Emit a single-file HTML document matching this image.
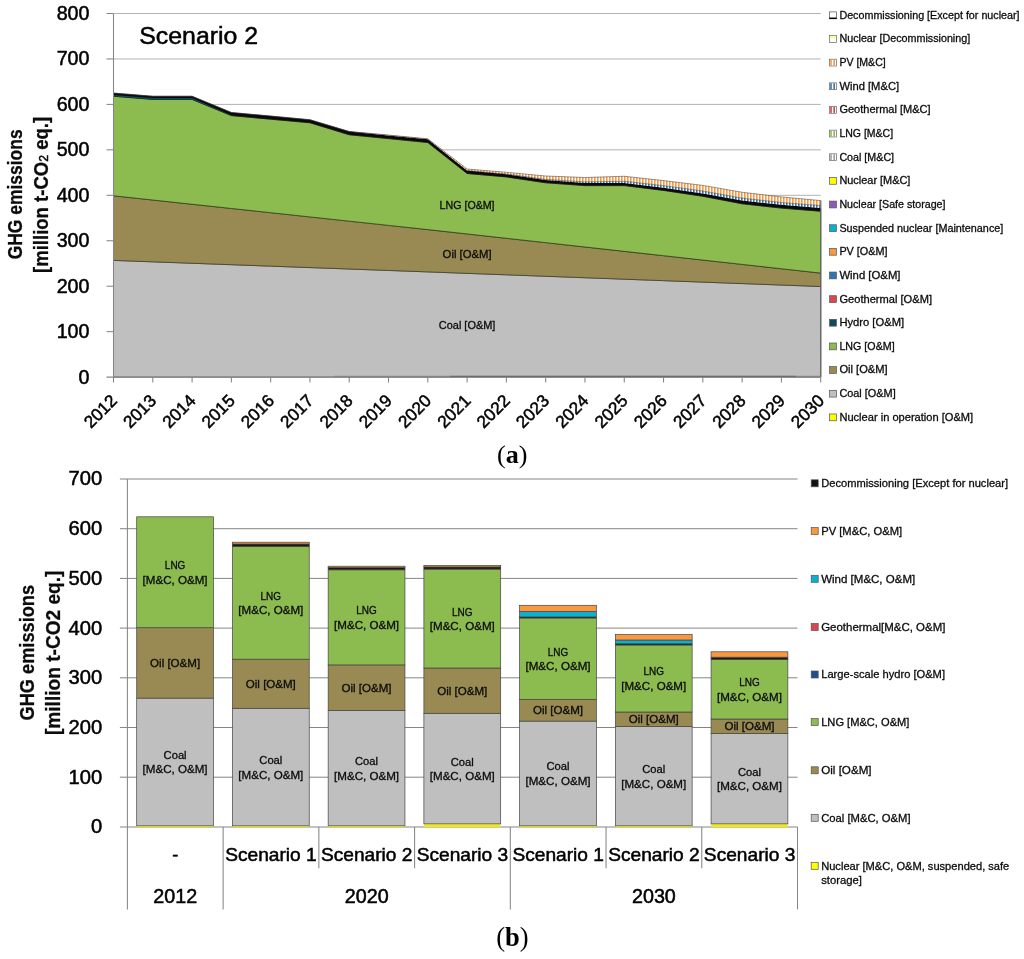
<!DOCTYPE html><html><head><meta charset="utf-8"><title>GHG emissions</title>
<style>html,body{margin:0;padding:0;background:#fff}svg{display:block;will-change:transform}text{font-family:"Liberation Sans",sans-serif;fill:#0c0c0c;stroke:#0c0c0c;stroke-width:0.28px}.big{stroke-width:0.5px;fill:#000;stroke:#000}.ser{font-family:"Liberation Serif",serif;fill:#000;stroke:none}</style></head><body>
<svg width="1024" height="959" viewBox="0 0 1024 959">
<rect width="1024" height="959" fill="#fff"/>
<defs>
<pattern id="hO" width="3" height="8" patternUnits="userSpaceOnUse"><rect width="3" height="8" fill="#fff"/><rect x="0" width="1.6" height="8" fill="#F9983F"/></pattern>
<pattern id="hB" width="3" height="8" patternUnits="userSpaceOnUse"><rect width="3" height="8" fill="#fff"/><rect x="0" width="1.6" height="8" fill="#2E75B6"/></pattern>
</defs>
<line x1="113.5" x2="820.7" y1="331.65" y2="331.65" stroke="#b2b2b2" stroke-width="1"/>
<line x1="113.5" x2="820.7" y1="286.20" y2="286.20" stroke="#b2b2b2" stroke-width="1"/>
<line x1="113.5" x2="820.7" y1="240.75" y2="240.75" stroke="#b2b2b2" stroke-width="1"/>
<line x1="113.5" x2="820.7" y1="195.30" y2="195.30" stroke="#b2b2b2" stroke-width="1"/>
<line x1="113.5" x2="820.7" y1="149.85" y2="149.85" stroke="#b2b2b2" stroke-width="1"/>
<line x1="113.5" x2="820.7" y1="104.40" y2="104.40" stroke="#b2b2b2" stroke-width="1"/>
<line x1="113.5" x2="820.7" y1="58.95" y2="58.95" stroke="#b2b2b2" stroke-width="1"/>
<line x1="113.5" x2="820.7" y1="13.50" y2="13.50" stroke="#b2b2b2" stroke-width="1"/>
<polygon points="113.50,260.40 152.79,261.84 192.08,263.27 231.37,264.71 270.66,266.15 309.94,267.59 349.23,269.02 388.52,270.46 427.81,271.90 467.10,273.36 506.39,274.82 545.68,276.28 584.97,277.74 624.26,279.20 663.54,280.66 702.83,282.12 742.12,283.58 781.41,285.04 820.70,286.50 820.70,377.10 781.41,377.10 742.12,377.10 702.83,377.10 663.54,377.10 624.26,377.10 584.97,377.10 545.68,377.10 506.39,377.10 467.10,377.10 427.81,377.10 388.52,377.10 349.23,377.10 309.94,377.10 270.66,377.10 231.37,377.10 192.08,377.10 152.79,377.10 113.50,377.10" fill="#BFBFBF" stroke="#4a4a4a" stroke-width="0.75" stroke-linejoin="round"/>
<polygon points="113.50,195.80 152.79,200.03 192.08,204.25 231.37,208.47 270.66,212.70 309.94,216.93 349.23,221.15 388.52,225.38 427.81,229.60 467.10,233.95 506.39,238.30 545.68,242.65 584.97,247.00 624.26,251.35 663.54,255.70 702.83,260.05 742.12,264.40 781.41,268.75 820.70,273.10 820.70,286.50 781.41,285.04 742.12,283.58 702.83,282.12 663.54,280.66 624.26,279.20 584.97,277.74 545.68,276.28 506.39,274.82 467.10,273.36 427.81,271.90 388.52,270.46 349.23,269.02 309.94,267.59 270.66,266.15 231.37,264.71 192.08,263.27 152.79,261.84 113.50,260.40" fill="#988A52" stroke="#3a3a2a" stroke-width="0.75" stroke-linejoin="round"/>
<polygon points="113.50,96.25 152.79,99.40 192.08,99.40 231.37,115.60 270.66,119.20 309.94,122.75 349.23,134.75 388.52,138.60 427.81,142.50 467.10,173.50 506.39,176.90 545.68,182.75 584.97,185.60 624.26,185.60 663.54,190.40 702.83,196.25 742.12,203.75 781.41,208.10 820.70,211.25 820.70,273.10 781.41,268.75 742.12,264.40 702.83,260.05 663.54,255.70 624.26,251.35 584.97,247.00 545.68,242.65 506.39,238.30 467.10,233.95 427.81,229.60 388.52,225.38 349.23,221.15 309.94,216.93 270.66,212.70 231.37,208.47 192.08,204.25 152.79,200.03 113.50,195.80" fill="#8CBC50" stroke="#2a3a1a" stroke-width="0.75" stroke-linejoin="round"/>
<polygon points="113.50,93.10 152.79,96.25 192.08,96.25 231.37,112.50 270.66,116.10 309.94,119.75 349.23,131.60 388.52,135.40 427.81,139.30 467.10,170.60 506.39,174.20 545.68,179.90 584.97,183.10 624.26,183.10 663.54,187.75 702.83,193.50 742.12,200.60 781.41,204.75 820.70,208.10 820.70,211.25 781.41,208.10 742.12,203.75 702.83,196.25 663.54,190.40 624.26,185.60 584.97,185.60 545.68,182.75 506.39,176.90 467.10,173.50 427.81,142.50 388.52,138.60 349.23,134.75 309.94,122.75 270.66,119.20 231.37,115.60 192.08,99.40 152.79,99.40 113.50,96.25" fill="#0a0a0a" stroke="#0a0a0a" stroke-width="0.5" stroke-linejoin="round"/>
<polygon points="113.50,95.05 152.79,97.90 192.08,97.90 231.37,115.30 231.37,115.60 192.08,99.40 152.79,99.40 113.50,96.25" fill="#0F4A5C"/>
<polygon points="113.50,93.10 152.79,96.25 192.08,96.25 231.37,112.50 270.66,116.10 309.94,119.75 349.23,131.60 388.52,135.40 427.81,139.30 467.10,170.60 506.39,174.00 545.68,179.40 584.97,181.90 624.26,181.25 663.54,185.60 702.83,191.00 742.12,198.10 781.41,202.50 820.70,205.60 820.70,208.10 781.41,204.75 742.12,200.60 702.83,193.50 663.54,187.75 624.26,183.10 584.97,183.10 545.68,179.90 506.39,174.20 467.10,170.60 427.81,139.30 388.52,135.40 349.23,131.60 309.94,119.75 270.66,116.10 231.37,112.50 192.08,96.25 152.79,96.25 113.50,93.10" fill="url(#hB)"/>
<polygon points="113.50,93.10 152.79,96.25 192.08,96.25 231.37,112.50 270.66,116.10 309.94,119.75 349.23,131.50 388.52,135.10 427.81,138.75 467.10,169.00 506.39,172.25 545.68,176.00 584.97,177.50 624.26,176.25 663.54,180.60 702.83,185.40 742.12,192.25 781.41,196.90 820.70,200.60 820.70,205.60 781.41,202.50 742.12,198.10 702.83,191.00 663.54,185.60 624.26,181.25 584.97,181.90 545.68,179.40 506.39,174.00 467.10,170.60 427.81,139.30 388.52,135.40 349.23,131.60 309.94,119.75 270.66,116.10 231.37,112.50 192.08,96.25 152.79,96.25 113.50,93.10" fill="url(#hO)"/>
<polyline points="113.50,93.10 152.79,96.25 192.08,96.25 231.37,112.50 270.66,116.10 309.94,119.75 349.23,131.50 388.52,135.10 427.81,138.75 467.10,169.00 506.39,172.25 545.68,176.00 584.97,177.50 624.26,176.25 663.54,180.60 702.83,185.40 742.12,192.25 781.41,196.90 820.70,200.60" fill="none" stroke="#333" stroke-width="0.5"/>
<polyline points="467.10,170.60 506.39,174.00 545.68,179.40 584.97,181.90 624.26,181.25 663.54,185.60 702.83,191.00 742.12,198.10 781.41,202.50 820.70,205.60" fill="none" stroke="#222" stroke-width="0.45"/>
<line x1="820.8000000000001" x2="820.8000000000001" y1="200.6" y2="377.1" stroke="#666" stroke-width="1.2"/>
<line x1="334" x2="450" y1="376.3" y2="376.3" stroke="#777" stroke-width="0.8"/>
<line x1="450" x2="796" y1="376.3" y2="376.3" stroke="#444" stroke-width="1"/>
<line x1="796" x2="820.7" y1="376.3" y2="376.3" stroke="#777" stroke-width="0.8"/>
<line x1="113.5" x2="113.5" y1="13.50" y2="382.6" stroke="#868686" stroke-width="1.05"/>
<line x1="106.5" x2="820.7" y1="377.1" y2="377.1" stroke="#868686" stroke-width="1.05"/>
<line x1="106.5" x2="113.5" y1="331.65" y2="331.65" stroke="#868686" stroke-width="1.05"/>
<line x1="106.5" x2="113.5" y1="286.20" y2="286.20" stroke="#868686" stroke-width="1.05"/>
<line x1="106.5" x2="113.5" y1="240.75" y2="240.75" stroke="#868686" stroke-width="1.05"/>
<line x1="106.5" x2="113.5" y1="195.30" y2="195.30" stroke="#868686" stroke-width="1.05"/>
<line x1="106.5" x2="113.5" y1="149.85" y2="149.85" stroke="#868686" stroke-width="1.05"/>
<line x1="106.5" x2="113.5" y1="104.40" y2="104.40" stroke="#868686" stroke-width="1.05"/>
<line x1="106.5" x2="113.5" y1="58.95" y2="58.95" stroke="#868686" stroke-width="1.05"/>
<line x1="106.5" x2="113.5" y1="13.50" y2="13.50" stroke="#868686" stroke-width="1.05"/>
<line x1="152.79" x2="152.79" y1="377.1" y2="382.6" stroke="#868686" stroke-width="1.05"/>
<line x1="192.08" x2="192.08" y1="377.1" y2="382.6" stroke="#868686" stroke-width="1.05"/>
<line x1="231.37" x2="231.37" y1="377.1" y2="382.6" stroke="#868686" stroke-width="1.05"/>
<line x1="270.66" x2="270.66" y1="377.1" y2="382.6" stroke="#868686" stroke-width="1.05"/>
<line x1="309.94" x2="309.94" y1="377.1" y2="382.6" stroke="#868686" stroke-width="1.05"/>
<line x1="349.23" x2="349.23" y1="377.1" y2="382.6" stroke="#868686" stroke-width="1.05"/>
<line x1="388.52" x2="388.52" y1="377.1" y2="382.6" stroke="#868686" stroke-width="1.05"/>
<line x1="427.81" x2="427.81" y1="377.1" y2="382.6" stroke="#868686" stroke-width="1.05"/>
<line x1="467.10" x2="467.10" y1="377.1" y2="382.6" stroke="#868686" stroke-width="1.05"/>
<line x1="506.39" x2="506.39" y1="377.1" y2="382.6" stroke="#868686" stroke-width="1.05"/>
<line x1="545.68" x2="545.68" y1="377.1" y2="382.6" stroke="#868686" stroke-width="1.05"/>
<line x1="584.97" x2="584.97" y1="377.1" y2="382.6" stroke="#868686" stroke-width="1.05"/>
<line x1="624.26" x2="624.26" y1="377.1" y2="382.6" stroke="#868686" stroke-width="1.05"/>
<line x1="663.54" x2="663.54" y1="377.1" y2="382.6" stroke="#868686" stroke-width="1.05"/>
<line x1="702.83" x2="702.83" y1="377.1" y2="382.6" stroke="#868686" stroke-width="1.05"/>
<line x1="742.12" x2="742.12" y1="377.1" y2="382.6" stroke="#868686" stroke-width="1.05"/>
<line x1="781.41" x2="781.41" y1="377.1" y2="382.6" stroke="#868686" stroke-width="1.05"/>
<line x1="820.70" x2="820.70" y1="377.1" y2="382.6" stroke="#868686" stroke-width="1.05"/>
<text class="big" x="89.50" y="383.55" font-size="19.7" text-anchor="end">0</text>
<text class="big" x="89.50" y="338.10" font-size="19.7" text-anchor="end">100</text>
<text class="big" x="89.50" y="292.65" font-size="19.7" text-anchor="end">200</text>
<text class="big" x="89.50" y="247.20" font-size="19.7" text-anchor="end">300</text>
<text class="big" x="89.50" y="201.75" font-size="19.7" text-anchor="end">400</text>
<text class="big" x="89.50" y="156.30" font-size="19.7" text-anchor="end">500</text>
<text class="big" x="89.50" y="110.85" font-size="19.7" text-anchor="end">600</text>
<text class="big" x="89.50" y="65.40" font-size="19.7" text-anchor="end">700</text>
<text class="big" x="89.50" y="19.95" font-size="19.7" text-anchor="end">800</text>
<text class="big" transform="translate(118.10,401.8) rotate(-45)" font-size="17.3" text-anchor="end">2012</text>
<text class="big" transform="translate(157.39,401.8) rotate(-45)" font-size="17.3" text-anchor="end">2013</text>
<text class="big" transform="translate(196.68,401.8) rotate(-45)" font-size="17.3" text-anchor="end">2014</text>
<text class="big" transform="translate(235.97,401.8) rotate(-45)" font-size="17.3" text-anchor="end">2015</text>
<text class="big" transform="translate(275.26,401.8) rotate(-45)" font-size="17.3" text-anchor="end">2016</text>
<text class="big" transform="translate(314.54,401.8) rotate(-45)" font-size="17.3" text-anchor="end">2017</text>
<text class="big" transform="translate(353.83,401.8) rotate(-45)" font-size="17.3" text-anchor="end">2018</text>
<text class="big" transform="translate(393.12,401.8) rotate(-45)" font-size="17.3" text-anchor="end">2019</text>
<text class="big" transform="translate(432.41,401.8) rotate(-45)" font-size="17.3" text-anchor="end">2020</text>
<text class="big" transform="translate(471.70,401.8) rotate(-45)" font-size="17.3" text-anchor="end">2021</text>
<text class="big" transform="translate(510.99,401.8) rotate(-45)" font-size="17.3" text-anchor="end">2022</text>
<text class="big" transform="translate(550.28,401.8) rotate(-45)" font-size="17.3" text-anchor="end">2023</text>
<text class="big" transform="translate(589.57,401.8) rotate(-45)" font-size="17.3" text-anchor="end">2024</text>
<text class="big" transform="translate(628.86,401.8) rotate(-45)" font-size="17.3" text-anchor="end">2025</text>
<text class="big" transform="translate(668.14,401.8) rotate(-45)" font-size="17.3" text-anchor="end">2026</text>
<text class="big" transform="translate(707.43,401.8) rotate(-45)" font-size="17.3" text-anchor="end">2027</text>
<text class="big" transform="translate(746.72,401.8) rotate(-45)" font-size="17.3" text-anchor="end">2028</text>
<text class="big" transform="translate(786.01,401.8) rotate(-45)" font-size="17.3" text-anchor="end">2029</text>
<text class="big" transform="translate(825.30,401.8) rotate(-45)" font-size="17.3" text-anchor="end">2030</text>
<text class="big" x="139.20" y="44.00" font-size="24.7" textLength="119.00" lengthAdjust="spacingAndGlyphs">Scenario 2</text>
<text transform="translate(22.2,194.35) rotate(-90)" font-size="19.5" font-weight="bold" text-anchor="middle" textLength="130" lengthAdjust="spacingAndGlyphs">GHG emissions</text>
<text transform="translate(47.6,194.9) rotate(-90)" font-size="19.5" font-weight="bold" text-anchor="middle" textLength="156" lengthAdjust="spacingAndGlyphs">[million t-CO<tspan font-size="13" font-weight="normal" stroke-width="0.5">2</tspan> eq.]</text>
<text x="467.10" y="208.55" font-size="10.2" text-anchor="middle" textLength="55.00" lengthAdjust="spacingAndGlyphs">LNG [O&amp;M]</text>
<text x="467.10" y="258.05" font-size="10.2" text-anchor="middle" textLength="49.00" lengthAdjust="spacingAndGlyphs">Oil [O&amp;M]</text>
<text x="467.10" y="329.30" font-size="10.2" text-anchor="middle" textLength="56.50" lengthAdjust="spacingAndGlyphs">Coal [O&amp;M]</text>
<rect x="829.6" y="11.90" width="6.8" height="6.8" fill="#fff" stroke="#666" stroke-width="0.8"/><line x1="829.3000000000001" x2="836.7" y1="18.30" y2="18.30" stroke="#000" stroke-width="1.5"/>
<text x="839.40" y="18.70" font-size="10.2" textLength="180.20" lengthAdjust="spacingAndGlyphs">Decommissioning [Except for nuclear]</text>
<rect x="829.6" y="35.55" width="6.8" height="6.8" fill="#fff" stroke="#666" stroke-width="0.7"/><rect x="830.0" y="35.95" width="6" height="2.4" fill="#FFFF99"/>
<text x="839.40" y="42.35" font-size="10.2" textLength="130.80" lengthAdjust="spacingAndGlyphs">Nuclear [Decommissioning]</text>
<rect x="829.6" y="59.20" width="6.8" height="6.8" fill="#fff" stroke="#666" stroke-width="0.7"/><rect x="830.2" y="59.60" width="1.6" height="6" fill="#F9983F"/><rect x="833.4" y="59.60" width="1.6" height="6" fill="#F9983F"/>
<text x="839.40" y="66.00" font-size="10.2" textLength="46.30" lengthAdjust="spacingAndGlyphs">PV [M&amp;C]</text>
<rect x="829.6" y="82.85" width="6.8" height="6.8" fill="#fff" stroke="#666" stroke-width="0.7"/><rect x="830.2" y="83.25" width="1.6" height="6" fill="#2E75B6"/><rect x="833.4" y="83.25" width="1.6" height="6" fill="#2E75B6"/>
<text x="839.40" y="89.65" font-size="10.2" textLength="59.70" lengthAdjust="spacingAndGlyphs">Wind [M&amp;C]</text>
<rect x="829.6" y="106.50" width="6.8" height="6.8" fill="#fff" stroke="#666" stroke-width="0.7"/><rect x="830.2" y="106.90" width="1.6" height="6" fill="#D94040"/><rect x="833.4" y="106.90" width="1.6" height="6" fill="#D94040"/>
<text x="839.40" y="113.30" font-size="10.2" textLength="91.20" lengthAdjust="spacingAndGlyphs">Geothermal [M&amp;C]</text>
<rect x="829.6" y="130.15" width="6.8" height="6.8" fill="#fff" stroke="#666" stroke-width="0.7"/><rect x="830.2" y="130.55" width="1.6" height="6" fill="#8CBC50"/><rect x="833.4" y="130.55" width="1.6" height="6" fill="#8CBC50"/>
<text x="839.40" y="136.95" font-size="10.2" textLength="53.70" lengthAdjust="spacingAndGlyphs">LNG [M&amp;C]</text>
<rect x="829.6" y="153.80" width="6.8" height="6.8" fill="#fff" stroke="#666" stroke-width="0.7"/><rect x="830.2" y="154.20" width="1.6" height="6" fill="#A0A0A0"/><rect x="833.4" y="154.20" width="1.6" height="6" fill="#A0A0A0"/>
<text x="839.40" y="160.60" font-size="10.2" textLength="54.70" lengthAdjust="spacingAndGlyphs">Coal [M&amp;C]</text>
<rect x="829.6" y="177.45" width="6.8" height="6.8" fill="#FFFF00" stroke="#555" stroke-width="0.7"/>
<text x="839.40" y="184.25" font-size="10.2" textLength="71.00" lengthAdjust="spacingAndGlyphs">Nuclear [M&amp;C]</text>
<rect x="829.6" y="201.10" width="6.8" height="6.8" fill="#8E5BB5" stroke="#555" stroke-width="0.7"/>
<text x="839.40" y="207.90" font-size="10.2" textLength="106.10" lengthAdjust="spacingAndGlyphs">Nuclear [Safe storage]</text>
<rect x="829.6" y="224.75" width="6.8" height="6.8" fill="#0AB0CF" stroke="#555" stroke-width="0.7"/>
<text x="839.40" y="231.55" font-size="10.2" textLength="163.90" lengthAdjust="spacingAndGlyphs">Suspended nuclear [Maintenance]</text>
<rect x="829.6" y="248.40" width="6.8" height="6.8" fill="#F9983F" stroke="#555" stroke-width="0.7"/>
<text x="839.40" y="255.20" font-size="10.2" textLength="48.10" lengthAdjust="spacingAndGlyphs">PV [O&amp;M]</text>
<rect x="829.6" y="272.05" width="6.8" height="6.8" fill="#2E75B6" stroke="#555" stroke-width="0.7"/>
<text x="839.40" y="278.85" font-size="10.2" textLength="61.10" lengthAdjust="spacingAndGlyphs">Wind [O&amp;M]</text>
<rect x="829.6" y="295.70" width="6.8" height="6.8" fill="#D94850" stroke="#555" stroke-width="0.7"/>
<text x="839.40" y="302.50" font-size="10.2" textLength="92.60" lengthAdjust="spacingAndGlyphs">Geothermal [O&amp;M]</text>
<rect x="829.6" y="319.35" width="6.8" height="6.8" fill="#0F4A5C" stroke="#555" stroke-width="0.7"/>
<text x="839.40" y="326.15" font-size="10.2" textLength="64.70" lengthAdjust="spacingAndGlyphs">Hydro [O&amp;M]</text>
<rect x="829.6" y="343.00" width="6.8" height="6.8" fill="#8CBC50" stroke="#555" stroke-width="0.7"/>
<text x="839.40" y="349.80" font-size="10.2" textLength="55.30" lengthAdjust="spacingAndGlyphs">LNG [O&amp;M]</text>
<rect x="829.6" y="366.65" width="6.8" height="6.8" fill="#988A52" stroke="#555" stroke-width="0.7"/>
<text x="839.40" y="373.45" font-size="10.2" textLength="48.30" lengthAdjust="spacingAndGlyphs">Oil [O&amp;M]</text>
<rect x="829.6" y="390.30" width="6.8" height="6.8" fill="#BFBFBF" stroke="#555" stroke-width="0.7"/>
<text x="839.40" y="397.10" font-size="10.2" textLength="56.30" lengthAdjust="spacingAndGlyphs">Coal [O&amp;M]</text>
<rect x="829.6" y="413.95" width="6.8" height="6.8" fill="#FFFF00" stroke="#555" stroke-width="0.7"/>
<text x="839.40" y="420.75" font-size="10.2" textLength="133.80" lengthAdjust="spacingAndGlyphs">Nuclear in operation [O&amp;M]</text>
<text class="ser" x="512.3" y="462.5" font-size="26.1" text-anchor="middle">(<tspan font-weight="bold">a</tspan>)</text>
<line x1="127.4" x2="797.5" y1="777.20" y2="777.20" stroke="#858585" stroke-width="1"/>
<line x1="127.4" x2="797.5" y1="727.50" y2="727.50" stroke="#858585" stroke-width="1"/>
<line x1="127.4" x2="797.5" y1="677.80" y2="677.80" stroke="#858585" stroke-width="1"/>
<line x1="127.4" x2="797.5" y1="628.10" y2="628.10" stroke="#858585" stroke-width="1"/>
<line x1="127.4" x2="797.5" y1="578.40" y2="578.40" stroke="#858585" stroke-width="1"/>
<line x1="127.4" x2="797.5" y1="528.70" y2="528.70" stroke="#858585" stroke-width="1"/>
<line x1="127.4" x2="797.5" y1="479.00" y2="479.00" stroke="#858585" stroke-width="1"/>
<rect x="136.70" y="698.10" width="76.8" height="127.70" fill="#BFBFBF" stroke="#444" stroke-width="0.7"/>
<rect x="136.70" y="627.70" width="76.8" height="70.40" fill="#988A52" stroke="#444" stroke-width="0.7"/>
<rect x="136.70" y="516.80" width="76.8" height="110.90" fill="#8CBC50" stroke="#444" stroke-width="0.7"/>
<text x="175.10" y="569.20" font-size="10.2" text-anchor="middle" textLength="20.50" lengthAdjust="spacingAndGlyphs">LNG</text>
<text x="175.10" y="583.70" font-size="10.2" text-anchor="middle" textLength="65.00" lengthAdjust="spacingAndGlyphs">[M&amp;C, O&amp;M]</text>
<text x="175.10" y="758.90" font-size="10.2" text-anchor="middle" textLength="23.00" lengthAdjust="spacingAndGlyphs">Coal</text>
<text x="175.10" y="773.40" font-size="10.2" text-anchor="middle" textLength="65.00" lengthAdjust="spacingAndGlyphs">[M&amp;C, O&amp;M]</text>
<text x="175.10" y="667.00" font-size="10.2" text-anchor="middle" textLength="50.00" lengthAdjust="spacingAndGlyphs">Oil [O&amp;M]</text>
<rect x="232.43" y="708.30" width="76.8" height="117.50" fill="#BFBFBF" stroke="#444" stroke-width="0.7"/>
<rect x="232.43" y="659.20" width="76.8" height="49.10" fill="#988A52" stroke="#444" stroke-width="0.7"/>
<rect x="232.43" y="546.40" width="76.8" height="112.80" fill="#8CBC50" stroke="#444" stroke-width="0.7"/>
<rect x="232.43" y="544.00" width="76.8" height="2.40" fill="#1a1a1a" stroke="#444" stroke-width="0.7"/>
<rect x="232.43" y="542.20" width="76.8" height="1.80" fill="#F9983F" stroke="#444" stroke-width="0.7"/>
<text x="270.83" y="599.75" font-size="10.2" text-anchor="middle" textLength="20.50" lengthAdjust="spacingAndGlyphs">LNG</text>
<text x="270.83" y="614.25" font-size="10.2" text-anchor="middle" textLength="65.00" lengthAdjust="spacingAndGlyphs">[M&amp;C, O&amp;M]</text>
<text x="270.83" y="764.00" font-size="10.2" text-anchor="middle" textLength="23.00" lengthAdjust="spacingAndGlyphs">Coal</text>
<text x="270.83" y="778.50" font-size="10.2" text-anchor="middle" textLength="65.00" lengthAdjust="spacingAndGlyphs">[M&amp;C, O&amp;M]</text>
<text x="270.83" y="687.85" font-size="10.2" text-anchor="middle" textLength="50.00" lengthAdjust="spacingAndGlyphs">Oil [O&amp;M]</text>
<rect x="328.16" y="710.40" width="76.8" height="115.40" fill="#BFBFBF" stroke="#444" stroke-width="0.7"/>
<rect x="328.16" y="664.90" width="76.8" height="45.50" fill="#988A52" stroke="#444" stroke-width="0.7"/>
<rect x="328.16" y="569.80" width="76.8" height="95.10" fill="#8CBC50" stroke="#444" stroke-width="0.7"/>
<rect x="328.16" y="567.60" width="76.8" height="2.20" fill="#1a1a1a" stroke="#444" stroke-width="0.7"/>
<rect x="328.16" y="566.20" width="76.8" height="1.40" fill="#F9983F" stroke="#444" stroke-width="0.7"/>
<text x="366.56" y="614.30" font-size="10.2" text-anchor="middle" textLength="20.50" lengthAdjust="spacingAndGlyphs">LNG</text>
<text x="366.56" y="628.80" font-size="10.2" text-anchor="middle" textLength="65.00" lengthAdjust="spacingAndGlyphs">[M&amp;C, O&amp;M]</text>
<text x="366.56" y="765.05" font-size="10.2" text-anchor="middle" textLength="23.00" lengthAdjust="spacingAndGlyphs">Coal</text>
<text x="366.56" y="779.55" font-size="10.2" text-anchor="middle" textLength="65.00" lengthAdjust="spacingAndGlyphs">[M&amp;C, O&amp;M]</text>
<text x="366.56" y="691.75" font-size="10.2" text-anchor="middle" textLength="50.00" lengthAdjust="spacingAndGlyphs">Oil [O&amp;M]</text>
<rect x="423.89" y="713.30" width="76.8" height="110.60" fill="#BFBFBF" stroke="#444" stroke-width="0.7"/>
<rect x="423.89" y="668.00" width="76.8" height="45.30" fill="#988A52" stroke="#444" stroke-width="0.7"/>
<rect x="423.89" y="569.10" width="76.8" height="98.90" fill="#8CBC50" stroke="#444" stroke-width="0.7"/>
<rect x="423.89" y="566.90" width="76.8" height="2.20" fill="#1a1a1a" stroke="#444" stroke-width="0.7"/>
<rect x="423.89" y="565.50" width="76.8" height="1.40" fill="#F9983F" stroke="#444" stroke-width="0.7"/>
<text x="462.29" y="615.50" font-size="10.2" text-anchor="middle" textLength="20.50" lengthAdjust="spacingAndGlyphs">LNG</text>
<text x="462.29" y="630.00" font-size="10.2" text-anchor="middle" textLength="65.00" lengthAdjust="spacingAndGlyphs">[M&amp;C, O&amp;M]</text>
<text x="462.29" y="765.55" font-size="10.2" text-anchor="middle" textLength="23.00" lengthAdjust="spacingAndGlyphs">Coal</text>
<text x="462.29" y="780.05" font-size="10.2" text-anchor="middle" textLength="65.00" lengthAdjust="spacingAndGlyphs">[M&amp;C, O&amp;M]</text>
<text x="462.29" y="694.75" font-size="10.2" text-anchor="middle" textLength="50.00" lengthAdjust="spacingAndGlyphs">Oil [O&amp;M]</text>
<rect x="519.61" y="721.10" width="76.8" height="104.70" fill="#BFBFBF" stroke="#444" stroke-width="0.7"/>
<rect x="519.61" y="699.40" width="76.8" height="21.70" fill="#988A52" stroke="#444" stroke-width="0.7"/>
<rect x="519.61" y="618.00" width="76.8" height="81.40" fill="#8CBC50" stroke="#444" stroke-width="0.7"/>
<rect x="519.61" y="616.90" width="76.8" height="1.10" fill="#1a1a1a" stroke="#444" stroke-width="0.7"/>
<rect x="519.61" y="611.40" width="76.8" height="5.50" fill="#0AB0CF" stroke="#444" stroke-width="0.7"/>
<rect x="519.61" y="605.30" width="76.8" height="6.10" fill="#F9983F" stroke="#444" stroke-width="0.7"/>
<text x="558.01" y="655.65" font-size="10.2" text-anchor="middle" textLength="20.50" lengthAdjust="spacingAndGlyphs">LNG</text>
<text x="558.01" y="670.15" font-size="10.2" text-anchor="middle" textLength="65.00" lengthAdjust="spacingAndGlyphs">[M&amp;C, O&amp;M]</text>
<text x="558.01" y="770.40" font-size="10.2" text-anchor="middle" textLength="23.00" lengthAdjust="spacingAndGlyphs">Coal</text>
<text x="558.01" y="784.90" font-size="10.2" text-anchor="middle" textLength="65.00" lengthAdjust="spacingAndGlyphs">[M&amp;C, O&amp;M]</text>
<text x="558.01" y="714.35" font-size="10.2" text-anchor="middle" textLength="50.00" lengthAdjust="spacingAndGlyphs">Oil [O&amp;M]</text>
<rect x="615.34" y="726.50" width="76.8" height="99.30" fill="#BFBFBF" stroke="#444" stroke-width="0.7"/>
<rect x="615.34" y="712.00" width="76.8" height="14.50" fill="#988A52" stroke="#444" stroke-width="0.7"/>
<rect x="615.34" y="645.00" width="76.8" height="67.00" fill="#8CBC50" stroke="#444" stroke-width="0.7"/>
<rect x="615.34" y="643.75" width="76.8" height="1.25" fill="#1a1a1a" stroke="#444" stroke-width="0.7"/>
<rect x="615.34" y="640.00" width="76.8" height="3.75" fill="#0AB0CF" stroke="#444" stroke-width="0.7"/>
<rect x="615.34" y="634.60" width="76.8" height="5.40" fill="#F9983F" stroke="#444" stroke-width="0.7"/>
<text x="653.74" y="675.45" font-size="10.2" text-anchor="middle" textLength="20.50" lengthAdjust="spacingAndGlyphs">LNG</text>
<text x="653.74" y="689.95" font-size="10.2" text-anchor="middle" textLength="65.00" lengthAdjust="spacingAndGlyphs">[M&amp;C, O&amp;M]</text>
<text x="653.74" y="773.10" font-size="10.2" text-anchor="middle" textLength="23.00" lengthAdjust="spacingAndGlyphs">Coal</text>
<text x="653.74" y="787.60" font-size="10.2" text-anchor="middle" textLength="65.00" lengthAdjust="spacingAndGlyphs">[M&amp;C, O&amp;M]</text>
<text x="653.74" y="723.35" font-size="10.2" text-anchor="middle" textLength="50.00" lengthAdjust="spacingAndGlyphs">Oil [O&amp;M]</text>
<rect x="711.07" y="733.50" width="76.8" height="90.40" fill="#BFBFBF" stroke="#444" stroke-width="0.7"/>
<rect x="711.07" y="719.00" width="76.8" height="14.50" fill="#988A52" stroke="#444" stroke-width="0.7"/>
<rect x="711.07" y="659.40" width="76.8" height="59.60" fill="#8CBC50" stroke="#444" stroke-width="0.7"/>
<rect x="711.07" y="657.20" width="76.8" height="2.20" fill="#1a1a1a" stroke="#444" stroke-width="0.7"/>
<rect x="711.07" y="651.80" width="76.8" height="5.40" fill="#F9983F" stroke="#444" stroke-width="0.7"/>
<text x="749.47" y="686.15" font-size="10.2" text-anchor="middle" textLength="20.50" lengthAdjust="spacingAndGlyphs">LNG</text>
<text x="749.47" y="700.65" font-size="10.2" text-anchor="middle" textLength="65.00" lengthAdjust="spacingAndGlyphs">[M&amp;C, O&amp;M]</text>
<text x="749.47" y="775.65" font-size="10.2" text-anchor="middle" textLength="23.00" lengthAdjust="spacingAndGlyphs">Coal</text>
<text x="749.47" y="790.15" font-size="10.2" text-anchor="middle" textLength="65.00" lengthAdjust="spacingAndGlyphs">[M&amp;C, O&amp;M]</text>
<text x="749.47" y="730.35" font-size="10.2" text-anchor="middle" textLength="50.00" lengthAdjust="spacingAndGlyphs">Oil [O&amp;M]</text>
<line x1="127.4" x2="127.4" y1="479.00" y2="826.9" stroke="#868686" stroke-width="1.05"/>
<line x1="119.9" x2="797.5" y1="826.9" y2="826.9" stroke="#868686" stroke-width="1.05"/>
<line x1="119.9" x2="127.4" y1="777.20" y2="777.20" stroke="#868686" stroke-width="1.05"/>
<line x1="119.9" x2="127.4" y1="727.50" y2="727.50" stroke="#868686" stroke-width="1.05"/>
<line x1="119.9" x2="127.4" y1="677.80" y2="677.80" stroke="#868686" stroke-width="1.05"/>
<line x1="119.9" x2="127.4" y1="628.10" y2="628.10" stroke="#868686" stroke-width="1.05"/>
<line x1="119.9" x2="127.4" y1="578.40" y2="578.40" stroke="#868686" stroke-width="1.05"/>
<line x1="119.9" x2="127.4" y1="528.70" y2="528.70" stroke="#868686" stroke-width="1.05"/>
<line x1="119.9" x2="127.4" y1="479.00" y2="479.00" stroke="#868686" stroke-width="1.05"/>
<text class="big" x="102.20" y="833.30" font-size="20.2" text-anchor="end">0</text>
<text class="big" x="102.20" y="783.60" font-size="20.2" text-anchor="end">100</text>
<text class="big" x="102.20" y="733.90" font-size="20.2" text-anchor="end">200</text>
<text class="big" x="102.20" y="684.20" font-size="20.2" text-anchor="end">300</text>
<text class="big" x="102.20" y="634.50" font-size="20.2" text-anchor="end">400</text>
<text class="big" x="102.20" y="584.80" font-size="20.2" text-anchor="end">500</text>
<text class="big" x="102.20" y="535.10" font-size="20.2" text-anchor="end">600</text>
<text class="big" x="102.20" y="485.40" font-size="20.2" text-anchor="end">700</text>
<line x1="127.40" x2="127.40" y1="826.9" y2="909.4" stroke="#868686" stroke-width="1.05"/>
<line x1="223.13" x2="223.13" y1="826.9" y2="909.4" stroke="#868686" stroke-width="1.05"/>
<line x1="318.86" x2="318.86" y1="826.9" y2="868.3" stroke="#868686" stroke-width="1.05"/>
<line x1="414.59" x2="414.59" y1="826.9" y2="868.3" stroke="#868686" stroke-width="1.05"/>
<line x1="510.31" x2="510.31" y1="826.9" y2="909.4" stroke="#868686" stroke-width="1.05"/>
<line x1="606.04" x2="606.04" y1="826.9" y2="868.3" stroke="#868686" stroke-width="1.05"/>
<line x1="701.77" x2="701.77" y1="826.9" y2="868.3" stroke="#868686" stroke-width="1.05"/>
<line x1="797.50" x2="797.50" y1="826.9" y2="909.4" stroke="#868686" stroke-width="1.05"/>
<rect x="137.00" y="825.80" width="76.2" height="1.40" fill="#EFE716"/><line x1="136.70" x2="213.50" y1="825.80" y2="825.80" stroke="#666" stroke-width="0.5"/>
<rect x="232.73" y="825.80" width="76.2" height="1.40" fill="#EFE716"/><line x1="232.43" x2="309.23" y1="825.80" y2="825.80" stroke="#666" stroke-width="0.5"/>
<rect x="328.46" y="825.80" width="76.2" height="1.40" fill="#EFE716"/><line x1="328.16" x2="404.96" y1="825.80" y2="825.80" stroke="#666" stroke-width="0.5"/>
<rect x="424.19" y="823.90" width="76.2" height="3.30" fill="#EFE716"/><line x1="423.89" x2="500.69" y1="823.90" y2="823.90" stroke="#666" stroke-width="0.5"/>
<rect x="519.91" y="825.80" width="76.2" height="1.40" fill="#EFE716"/><line x1="519.61" x2="596.41" y1="825.80" y2="825.80" stroke="#666" stroke-width="0.5"/>
<rect x="615.64" y="825.80" width="76.2" height="1.40" fill="#EFE716"/><line x1="615.34" x2="692.14" y1="825.80" y2="825.80" stroke="#666" stroke-width="0.5"/>
<rect x="711.37" y="823.90" width="76.2" height="3.30" fill="#EFE716"/><line x1="711.07" x2="787.87" y1="823.90" y2="823.90" stroke="#666" stroke-width="0.5"/>
<text class="big" x="175.26" y="861.00" font-size="18.1" text-anchor="middle">-</text>
<text class="big" x="270.99" y="861.00" font-size="18.1" text-anchor="middle" textLength="91.50" lengthAdjust="spacingAndGlyphs">Scenario 1</text>
<text class="big" x="366.72" y="861.00" font-size="18.1" text-anchor="middle" textLength="91.50" lengthAdjust="spacingAndGlyphs">Scenario 2</text>
<text class="big" x="462.45" y="861.00" font-size="18.1" text-anchor="middle" textLength="91.50" lengthAdjust="spacingAndGlyphs">Scenario 3</text>
<text class="big" x="558.18" y="861.00" font-size="18.1" text-anchor="middle" textLength="91.50" lengthAdjust="spacingAndGlyphs">Scenario 1</text>
<text class="big" x="653.91" y="861.00" font-size="18.1" text-anchor="middle" textLength="91.50" lengthAdjust="spacingAndGlyphs">Scenario 2</text>
<text class="big" x="749.64" y="861.00" font-size="18.1" text-anchor="middle" textLength="91.50" lengthAdjust="spacingAndGlyphs">Scenario 3</text>
<text class="big" x="175.26" y="903.00" font-size="19.3" text-anchor="middle" textLength="43.90" lengthAdjust="spacingAndGlyphs">2012</text>
<text class="big" x="366.72" y="903.00" font-size="19.3" text-anchor="middle" textLength="43.90" lengthAdjust="spacingAndGlyphs">2020</text>
<text class="big" x="653.91" y="903.00" font-size="19.3" text-anchor="middle" textLength="43.90" lengthAdjust="spacingAndGlyphs">2030</text>
<text transform="translate(34.2,652.7) rotate(-90)" font-size="20.5" font-weight="bold" text-anchor="middle" textLength="135.5" lengthAdjust="spacingAndGlyphs">GHG emissions</text>
<text transform="translate(59.5,652.8) rotate(-90)" font-size="20.5" font-weight="bold" text-anchor="middle" textLength="164.5" lengthAdjust="spacingAndGlyphs">[million t-CO2 eq.]</text>
<rect x="811.2" y="479.80" width="7" height="7" fill="#111" stroke="#555" stroke-width="0.7"/>
<text x="821.20" y="487.00" font-size="10.4" textLength="186.90" lengthAdjust="spacingAndGlyphs">Decommissioning [Except for nuclear]</text>
<rect x="811.2" y="527.50" width="7" height="7" fill="#F9983F" stroke="#555" stroke-width="0.7"/>
<text x="821.20" y="534.70" font-size="10.4" textLength="80.90" lengthAdjust="spacingAndGlyphs">PV [M&amp;C, O&amp;M]</text>
<rect x="811.2" y="575.30" width="7" height="7" fill="#0AB0CF" stroke="#555" stroke-width="0.7"/>
<text x="821.20" y="582.50" font-size="10.4" textLength="94.00" lengthAdjust="spacingAndGlyphs">Wind [M&amp;C, O&amp;M]</text>
<rect x="811.2" y="623.50" width="7" height="7" fill="#D94850" stroke="#555" stroke-width="0.7"/>
<text x="821.20" y="630.70" font-size="10.4" textLength="124.20" lengthAdjust="spacingAndGlyphs">Geothermal[M&amp;C, O&amp;M]</text>
<rect x="811.2" y="671.00" width="7" height="7" fill="#1F4E8C" stroke="#555" stroke-width="0.7"/>
<text x="821.20" y="678.20" font-size="10.4" textLength="123.80" lengthAdjust="spacingAndGlyphs">Large-scale hydro [O&amp;M]</text>
<rect x="811.2" y="718.60" width="7" height="7" fill="#8CBC50" stroke="#555" stroke-width="0.7"/>
<text x="821.20" y="725.80" font-size="10.4" textLength="88.20" lengthAdjust="spacingAndGlyphs">LNG [M&amp;C, O&amp;M]</text>
<rect x="811.2" y="766.80" width="7" height="7" fill="#988A52" stroke="#555" stroke-width="0.7"/>
<text x="821.20" y="774.00" font-size="10.4" textLength="50.40" lengthAdjust="spacingAndGlyphs">Oil [O&amp;M]</text>
<rect x="811.2" y="814.30" width="7" height="7" fill="#BFBFBF" stroke="#555" stroke-width="0.7"/>
<text x="821.20" y="821.50" font-size="10.4" textLength="89.40" lengthAdjust="spacingAndGlyphs">Coal [M&amp;C, O&amp;M]</text>
<rect x="811.2" y="862.30" width="7" height="7" fill="#FFFF00" stroke="#555" stroke-width="0.7"/>
<text x="821.20" y="869.50" font-size="10.4" textLength="188.10" lengthAdjust="spacingAndGlyphs">Nuclear [M&amp;C, O&amp;M, suspended, safe</text>
<text x="821.20" y="883.80" font-size="10.4" textLength="40.70" lengthAdjust="spacingAndGlyphs">storage]</text>
<text class="ser" x="512.4" y="945.6" font-size="26.5" text-anchor="middle">(<tspan font-weight="bold">b</tspan>)</text>
</svg></body></html>
